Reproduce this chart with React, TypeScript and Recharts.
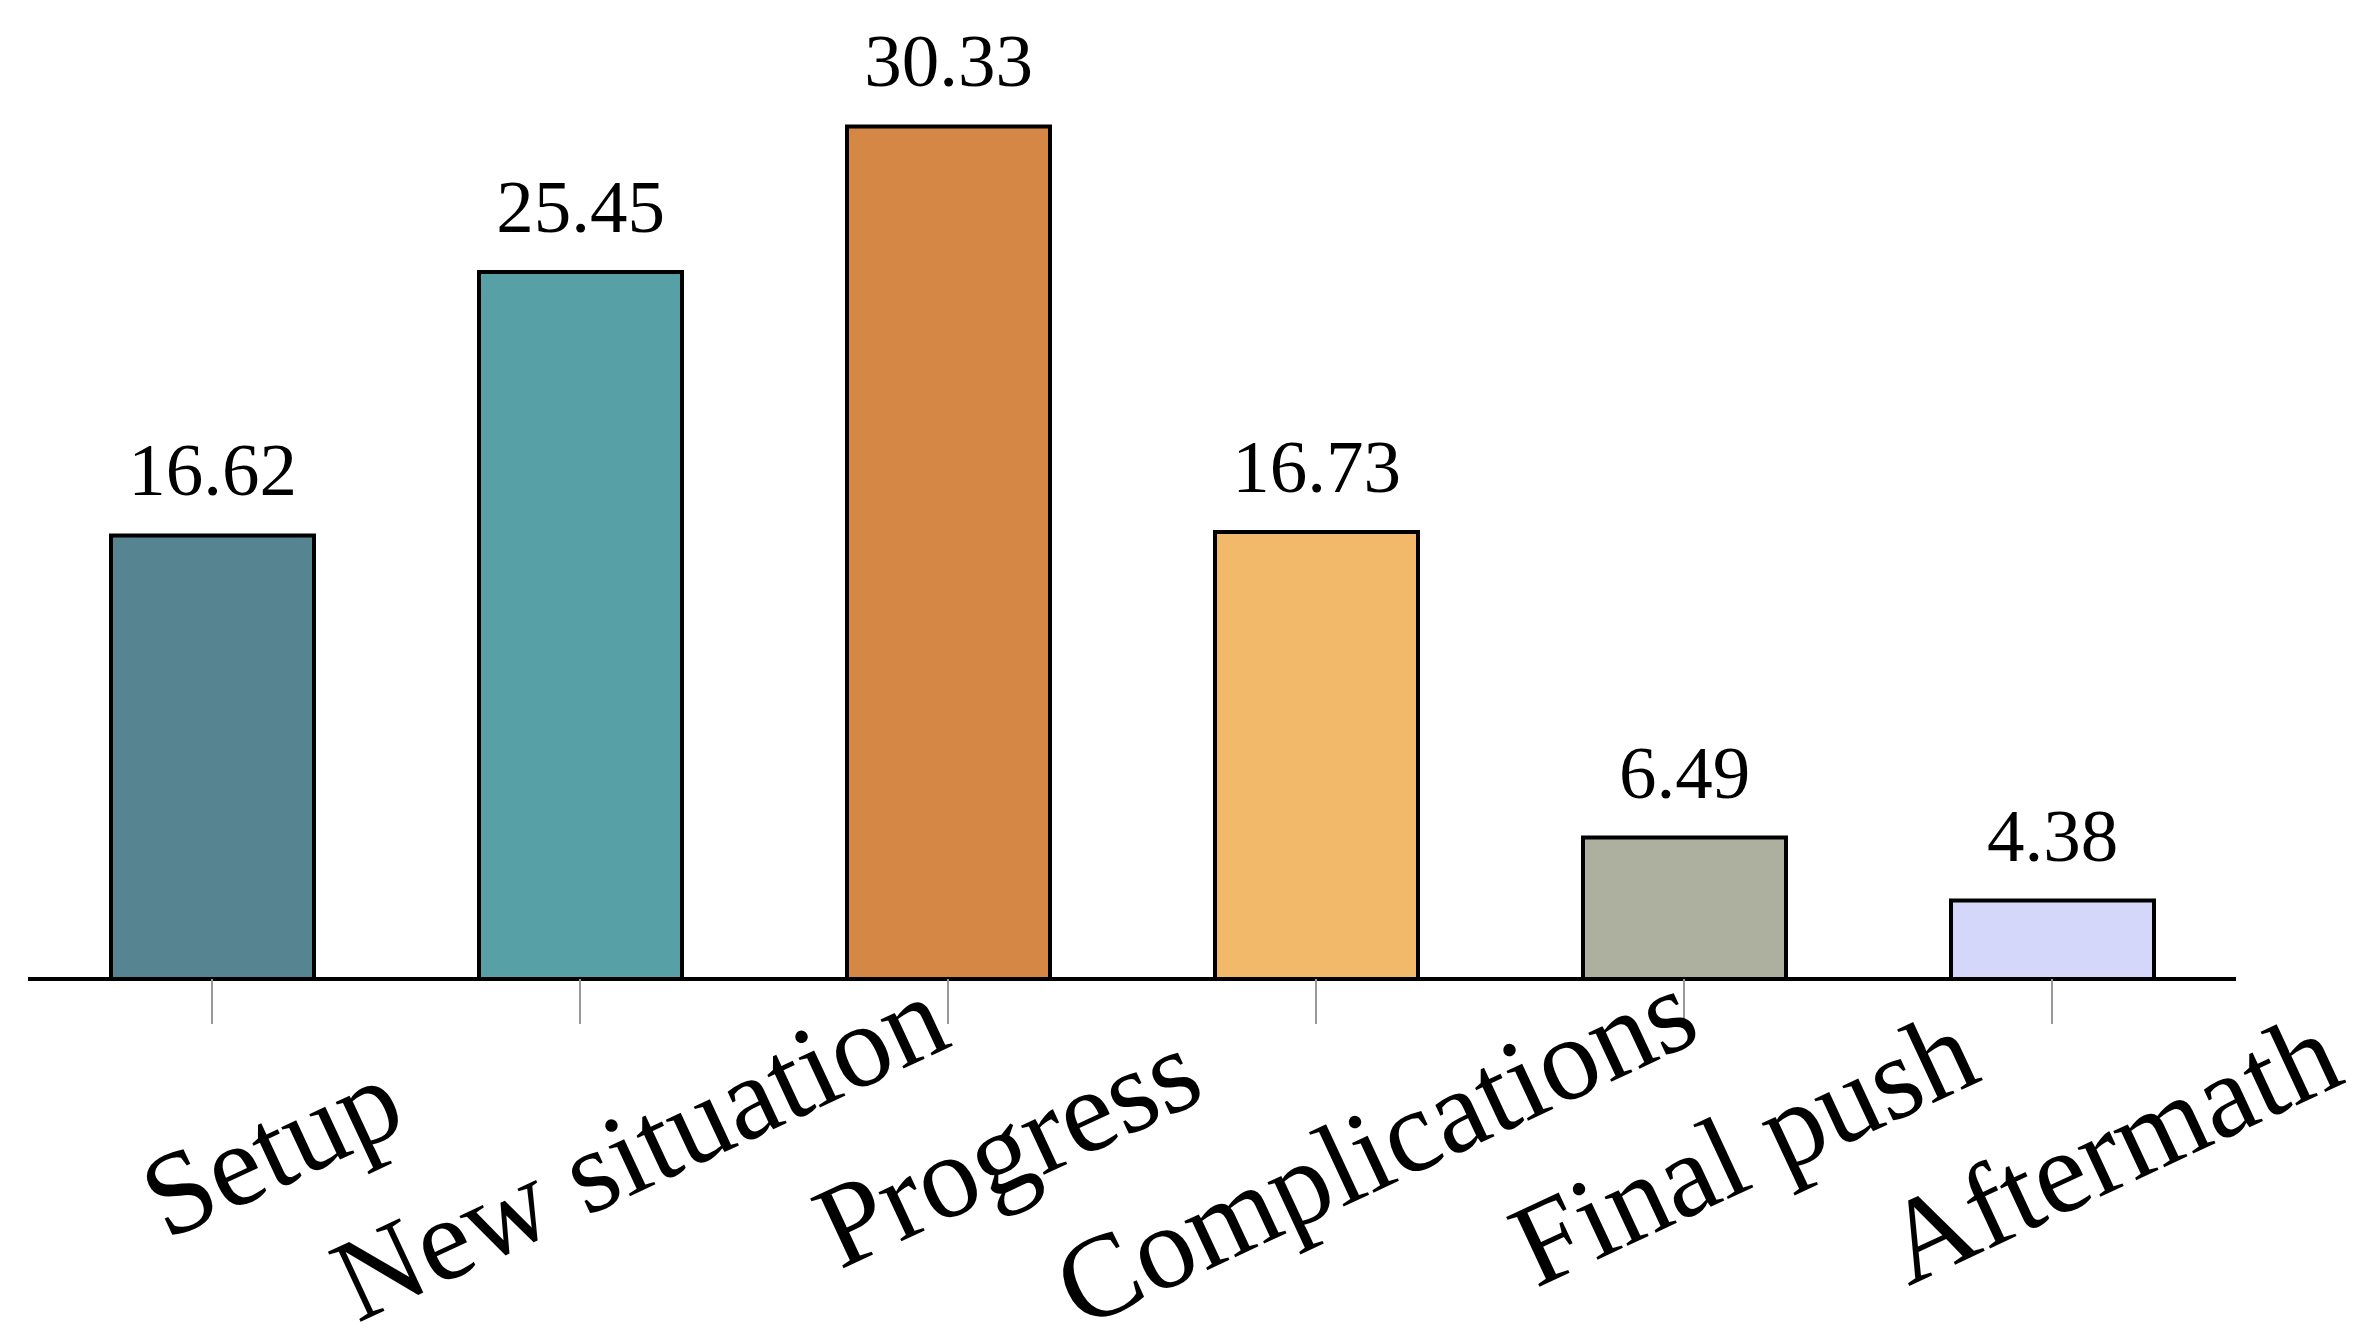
import { Bar, BarChart, Cell, LabelList, XAxis, YAxis } from "recharts";

// Story arc shares, one bar per stage.
const STAGES = [
  "Setup",
  "New situation",
  "Progress",
  "Complications",
  "Final push",
  "Aftermath",
];
const SHARES = [16.62, 25.45, 30.33, 16.73, 6.49, 4.38];
const Y_DOMAIN: [number, number] = [1.75, 33.36];

const PALETTE = ["#568591", "#56A0A6", "#D58746", "#F3B96A", "#ADB09F", "#D4D6FA"];
const SERIF = "'Liberation Serif', 'Times New Roman', serif";

const data = STAGES.map((stage, i) => ({ stage, share: SHARES[i] }));

function StageTick(props: any) {
  const { x, y, payload } = props;
  return (
    <g transform={`translate(${x + 76},${y + 160}) rotate(-25)`}>
      <text textAnchor="middle" fontFamily={SERIF} fontSize={118} fill="#000">
        {payload.value}
      </text>
    </g>
  );
}

function ValueLabel(props: any) {
  const { x, y, width, value } = props;
  return (
    <text
      x={x + width / 2}
      y={y - 40}
      textAnchor="middle"
      fontFamily={SERIF}
      fontSize={75}
      fill="#000"
    >
      {Number(value).toFixed(2)}
    </text>
  );
}

export default function App() {
  return (
    <div style={{ position: "absolute", left: 0, top: 0, background: "#fff" }}>
      <BarChart
        width={2358}
        height={1344}
        data={data}
        margin={{ top: 36, right: 122, left: 28, bottom: 0 }}
      >
        <XAxis
          dataKey="stage"
          height={365}
          interval={0}
          tickSize={45}
          tickMargin={0}
          axisLine={{ stroke: "#000", strokeWidth: 4 }}
          tickLine={{ stroke: "#999", strokeWidth: 2 }}
          tick={<StageTick />}
        />
        <YAxis hide domain={Y_DOMAIN} allowDataOverflow />
        <Bar
          dataKey="share"
          barSize={203}
          stroke="#000"
          strokeWidth={4}
          isAnimationActive={false}
        >
          {data.map((d, i) => (
            <Cell key={d.stage} fill={PALETTE[i]} />
          ))}
          <LabelList dataKey="share" content={<ValueLabel />} />
        </Bar>
      </BarChart>
    </div>
  );
}
